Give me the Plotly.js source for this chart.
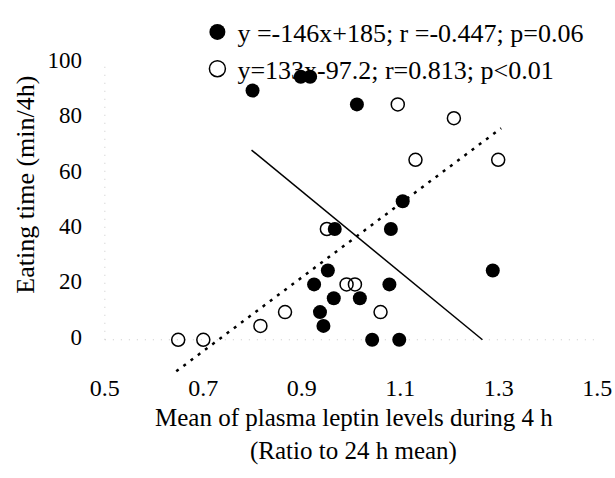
<!DOCTYPE html>
<html>
<head>
<meta charset="utf-8">
<script src="https://cdn.plot.ly/plotly-3.0.1.min.js"></script>
<style>html,body{margin:0;padding:0;background:#fff;}#chart{width:615px;height:478px;}</style>
</head>
<body>
<div id="chart"></div>
<script>
// Filled circles (series 1)
var filledX = [0.800, 0.898, 0.917, 1.012, 0.967, 1.081, 1.105, 0.953, 1.288, 0.925, 1.078, 0.965, 1.018, 0.937, 0.944, 1.043, 1.098];
var filledY = [90, 95, 95, 85, 40, 40, 50, 25, 25, 20, 20, 15, 15, 10, 5, 0, 0];
// Open circles (series 2)
var openX = [0.649, 0.700, 0.816, 0.866, 0.951, 0.991, 1.008, 1.060, 1.095, 1.131, 1.209, 1.299];
var openY = [0, 0, 5, 10, 40, 20, 20, 10, 85, 65, 80, 65];
// Regression line end points
var fitFilledX = [0.798, 1.267];
var fitFilledY = [68.5, 0];
var fitOpenX = [0.645, 1.305];
var fitOpenY = [-11.4, 76.4];
// Labels
var legendFilled = "y =-146x+185; r =-0.447; p=0.06";
var legendOpen = "y=133x-97.2; r=0.813; p<0.01";
var xTicks = [0.5, 0.7, 0.9, 1.1, 1.3, 1.5];
var xTickText = ["0.5", "0.7", "0.9", "1.1", "1.3", "1.5"];
var yTicks = [0, 20, 40, 60, 80, 100];
var yTickText = ["0", "20", "40", "60", "80", "100"];
var xTitle1 = "Mean of plasma leptin levels during 4 h";
var xTitle2 = "(Ratio to 24 h mean)";
var yTitle = "Eating time (min/4h)";

var FONT = "Liberation Serif, Times New Roman, serif";

var traces = [
  {x: fitFilledX, y: fitFilledY, mode: "lines", line: {color: "#000", width: 1.5}, showlegend: false, hoverinfo: "skip"},
  {x: fitOpenX, y: fitOpenY, mode: "lines", line: {color: "#000", width: 2.5, dash: "3px,6px"}, showlegend: false, hoverinfo: "skip"},
  {x: openX, y: openY, mode: "markers", marker: {symbol: "circle-open", size: 13, color: "#000", line: {width: 1.5}}, showlegend: false},
  {x: filledX, y: filledY, mode: "markers", marker: {symbol: "circle", size: 14, color: "#000"}, showlegend: false},
  {x: [null], y: [null], mode: "markers", name: legendFilled, marker: {symbol: "circle", size: 18, color: "#000"}, legendgroup: "a"},
  {x: [null], y: [null], mode: "markers", name: legendOpen, marker: {symbol: "circle-open", size: 16, color: "#000", line: {width: 1.5}}, legendgroup: "b"}
];

var layout = {
  width: 615, height: 478,
  margin: {l: 95, r: 8, t: 43, b: 105},
  paper_bgcolor: "#fff", plot_bgcolor: "#fff",
  font: {family: FONT, color: "#000", size: 24},
  xaxis: {
    range: [0.48, 1.52], tickvals: xTicks, ticktext: xTickText,
    showgrid: false, zeroline: false, showline: false, ticks: "",
    tickfont: {family: FONT, size: 24, color: "#000"}, ticklabelstandoff: -2
  },
  yaxis: {
    range: [-12, 105], tickvals: yTicks, ticktext: yTickText,
    showgrid: false, zeroline: false, showline: false, ticks: "",
    tickfont: {family: FONT, size: 23, color: "#000"}, ticklabelstandoff: 12, ticklabelshift: -3
  },
  shapes: [
    {type: "line", xref: "x", yref: "y", x0: 0.5, x1: 0.5, y0: 0, y1: 100, line: {color: "#c8c8c8", width: 1, dash: "1px,7px"}, layer: "below"},
    {type: "line", xref: "x", yref: "y", x0: 0.5, x1: 1.5, y0: 0, y1: 0, line: {color: "#c8c8c8", width: 1, dash: "1px,7px"}, layer: "below"}
  ],
  legend: {
    x: 0.2, y: 1.125, xanchor: "left", yanchor: "top",
    bgcolor: "rgba(0,0,0,0)", borderwidth: 0,
    font: {family: FONT, size: 26, color: "#000"},
    tracegroupgap: 0
  },
  annotations: [
    {text: yTitle, xref: "paper", yref: "paper", x: -0.135, y: 0.581, xanchor: "center", yanchor: "middle", textangle: -90, showarrow: false, font: {family: FONT, size: 26, color: "#000"}},
    {text: xTitle1, xref: "paper", yref: "paper", x: 0.505, y: -0.138, xanchor: "center", yanchor: "middle", showarrow: false, font: {family: FONT, size: 25, color: "#000"}},
    {text: xTitle2, xref: "paper", yref: "paper", x: 0.505, y: -0.24, xanchor: "center", yanchor: "middle", showarrow: false, font: {family: FONT, size: 25, color: "#000"}}
  ]
};

Plotly.newPlot("chart", traces, layout, {staticPlot: true, displayModeBar: false});
</script>
</body>
</html>
